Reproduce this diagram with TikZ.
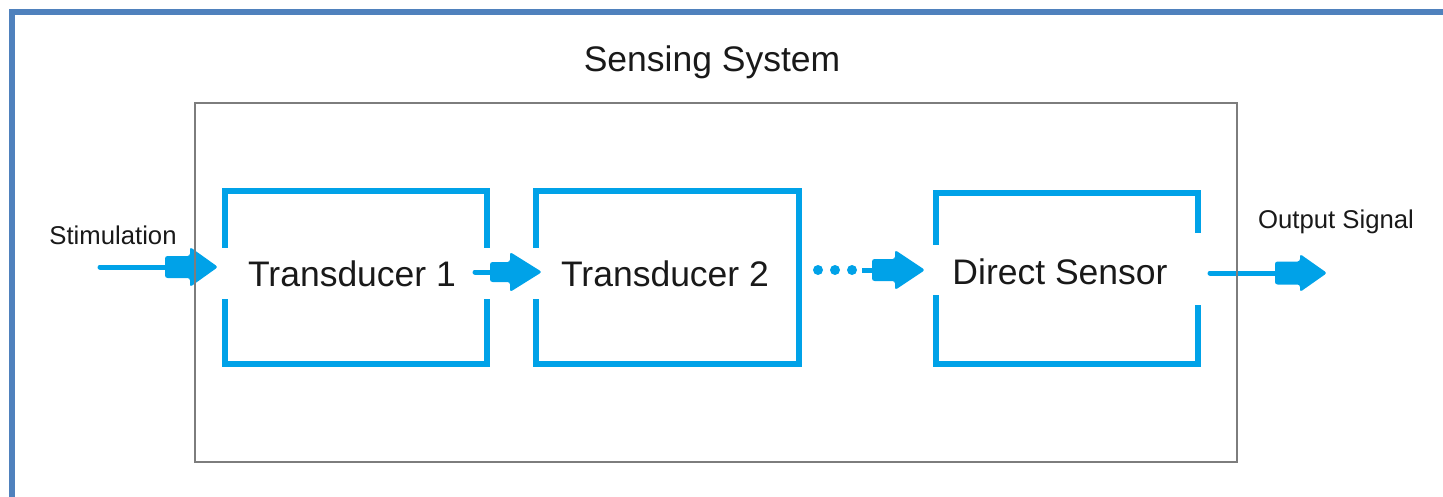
\documentclass[tikz,border=0pt]{standalone}
\usepackage{fontspec}
\setmainfont{Liberation Sans}
\usetikzlibrary{calc}

\definecolor{flowblue}{RGB}{0,162,232}
\definecolor{framebl}{RGB}{79,129,189}
\definecolor{sysgray}{RGB}{125,125,125}
\definecolor{txt}{RGB}{25,25,25}

\tikzset{
  frameline/.style={draw=framebl, line width=6pt},
  sysbox/.style={draw=sysgray, line width=2pt},
  bracket/.style={draw=flowblue, line width=6pt, line cap=rect, line join=miter},
  feed/.style={draw=flowblue, line width=5pt, line cap=round},
  dotmark/.style={fill=flowblue},
  bigtext/.style={text=txt, font=\fontsize{35.5}{42}\selectfont, inner sep=0pt},
  smalltext/.style={text=txt, font=\fontsize{25.7}{31}\selectfont, inner sep=0pt},
  slot/.style={inner sep=0pt, minimum width=#1, minimum height=173pt},
}

% fat arrow: start point, shaft length, head length, shaft half height, head half height
\newcommand\fatarrow[5]{%
  \fill[flowblue, rounded corners=2.5pt]
    ($(#1)+(0,-#4)$) -- ++(#2,0) -- ++(0,#4-#5) -- ($(#1)+(#2+#3,0)$)
    -- ($(#1)+(#2,#5)$) -- ++(0,#4-#5) -- ($(#1)+(0,#4)$) -- cycle;}

\begin{document}
\begin{tikzpicture}[x=1pt,y=-1pt]
\useasboundingbox (0,0) rectangle (1443,497);

% page frame (left and top edges)
\draw[frameline] (12,505) -- (12,12) -- (1450,12);

% title
\node[bigtext, anchor=base] (title) at (712,72) {Sensing System};

% stage slots (invisible) carrying the labels
\node[slot=262pt] (t1) at (356,277.5) {};
\node[slot=263pt] (t2) at (667.5,277.5) {};
\node[slot=262pt, minimum height=171pt] (ds) at (1067,278.5) {};
\node[bigtext] (t1l) at (352,274) {Transducer 1};
\node[bigtext] (t2l) at (665,274) {Transducer 2};
\node[bigtext] (dsl) at (1060,272) {Direct Sensor};

% stage outlines, open where the signal passes
\draw[bracket] (t1.west |- 0,245) -- (t1.north west) -- (t1.north east) -- (t1.east |- 0,245);
\draw[bracket] (t1.west |- 0,302) -- (t1.south west) -- (t1.south east) -- (t1.east |- 0,302);
\draw[bracket] (t2.west |- 0,245) -- (t2.north west) -- (t2.north east) -- (t2.south east) -- (t2.south west) -- (t2.west |- 0,302);
\draw[bracket] (ds.west |- 0,242) -- (ds.north west) -- (ds.north east) -- (ds.east |- 0,230);
\draw[bracket] (ds.west |- 0,298) -- (ds.south west) -- (ds.south east) -- (ds.east |- 0,308);

% outside labels
\node[smalltext] (stim) at (113,235) {Stimulation};
\node[smalltext, anchor=base] (out) at (1336,229) {Output Signal};

% connectors
\coordinate (s0) at (100,267);
\coordinate (s1) at (165,267);
\draw[feed] (s0) -- (s1);
\fatarrow{s1}{25}{28}{11}{20}

\coordinate (a0) at (475,272);
\coordinate (a1) at (490,272);
\draw[feed] (a0) -- (a1);
\fatarrow{a1}{20}{32}{10}{20}

\coordinate (d1) at (818,270);
\coordinate (d2) at (835,270);
\coordinate (d3) at (852,270);
\coordinate (d4) at (862,270);
\coordinate (d5) at (872,270);
\fill[dotmark] (d1) circle (5) (d2) circle (5) (d3) circle (5);
\draw[feed, line cap=butt] (d4) -- (d5);
\fatarrow{d5}{23}{30}{11}{20}

\coordinate (o0) at (1210,273);
\coordinate (o1) at (1275,273);
\draw[feed] (o0) -- (o1);
\fatarrow{o1}{25}{27}{11.5}{19}

% system boundary
\node[sysbox, inner sep=0pt, minimum width=1042pt, minimum height=359pt] (sys) at (716,282.5) {};
\end{tikzpicture}
\end{document}
